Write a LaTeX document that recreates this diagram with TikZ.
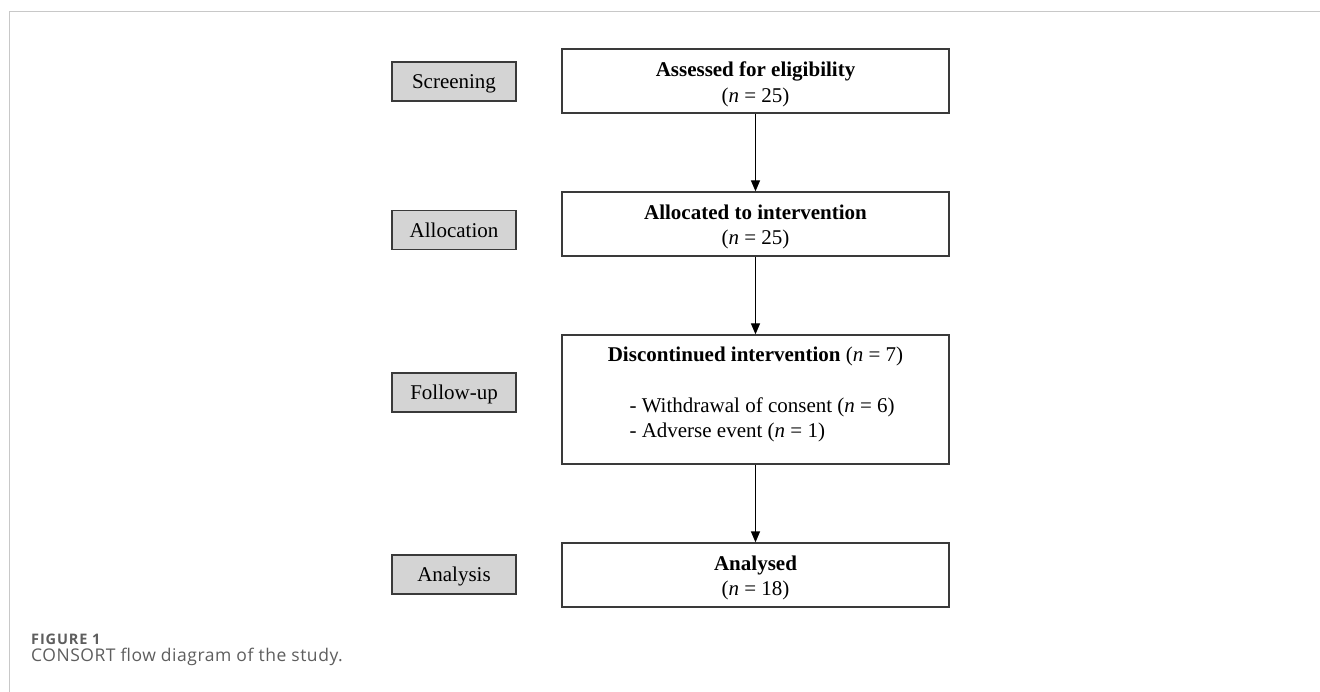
\documentclass[tikz,border=0pt]{standalone}
\usepackage{fontspec}
\setmainfont{Liberation Serif}
\newfontfamily\capfont[LetterSpace=3]{Open Sans}
\newfontfamily\capboldfont[LetterSpace=6]{Open Sans}
\usetikzlibrary{arrows.meta}
\definecolor{framegray}{HTML}{C8C8C8}
\definecolor{boxgray}{HTML}{D4D4D4}
\definecolor{boxedge}{HTML}{3A3A3A}
\definecolor{captiongray}{HTML}{5E5E5E}
\tikzset{
  stagebox/.style={draw=boxedge, fill=boxgray, line width=1.3pt, minimum width=124pt, minimum height=39pt, inner sep=0pt, text height=14.5pt, text depth=0pt, font=\fontsize{21}{25}\selectfont},
  mainbox/.style={draw=boxedge, line width=1.3pt, minimum width=387pt, minimum height=64pt, inner sep=0pt},
  boxtext/.style={anchor=base, inner sep=0pt, font=\fontsize{21}{25}\selectfont},
  listtext/.style={anchor=base west, inner sep=0pt, font=\fontsize{21}{25}\selectfont},
  flow/.style={line width=1.3pt, -{Triangle[length=11pt,width=9pt]}},
  captext/.style={anchor=base west, inner sep=0pt, text=captiongray}
}
\begin{document}
\begin{tikzpicture}[x=1pt,y=-1pt]
\useasboundingbox (0,0) rectangle (1320,692);
\fill[white] (0,0) rectangle (1320,692);
% frame
\draw[framegray, line width=1.2pt] (9.5,692) -- (9.5,11.5) -- (1320,11.5);
% stage boxes
\node[stagebox] (s1) at (454,81.5) {Screening};
\node[stagebox] (s2) at (454,230) {Allocation};
\node[stagebox] (s3) at (454,392.5) {Follow-up};
\node[stagebox] (s4) at (454,574.5) {Analysis};
% main boxes
\node[mainbox] (b1) at (755.5,81) {};
\node[mainbox] (b2) at (755.5,224) {};
\node[mainbox, minimum height=129pt] (b3) at (755.5,399.5) {};
\node[mainbox] (b4) at (755.5,575) {};
% texts
\node[boxtext] (t1a) at (755.5,77) {\textbf{Assessed for eligibility}};
\node[boxtext] (t1b) at (755.5,103) {(\textit{n} = 25)};
\node[boxtext] (t2a) at (755.5,220) {\textbf{Allocated to intervention}};
\node[boxtext] (t2b) at (755.5,245) {(\textit{n} = 25)};
\node[boxtext] (t3a) at (755.5,361.5) {\textbf{Discontinued intervention} (\textit{n} = 7)};
\node[listtext] (t3b) at (629.3,413) {- Withdrawal of consent (\textit{n} = 6)};
\node[listtext] (t3c) at (629.3,438) {- Adverse event (\textit{n} = 1)};
\node[boxtext] (t4a) at (755.5,570) {\textbf{Analysed}};
\node[boxtext] (t4b) at (755.5,595) {(\textit{n} = 18)};
% arrows
\draw[flow] (b1.south) -- (b2.north);
\draw[flow] (b2.south) -- (b3.north);
\draw[flow] (b3.south) -- (b4.north);
% caption
\node[captext, font=\capboldfont\bfseries\fontsize{14.5}{17}\selectfont] (cap1) at (31,644.3) {FIGURE 1};
\node[captext, font=\capfont\fontsize{17.5}{20}\selectfont] (cap2) at (31,661) {CONSORT flow diagram of the study.};
\end{tikzpicture}
\end{document}
